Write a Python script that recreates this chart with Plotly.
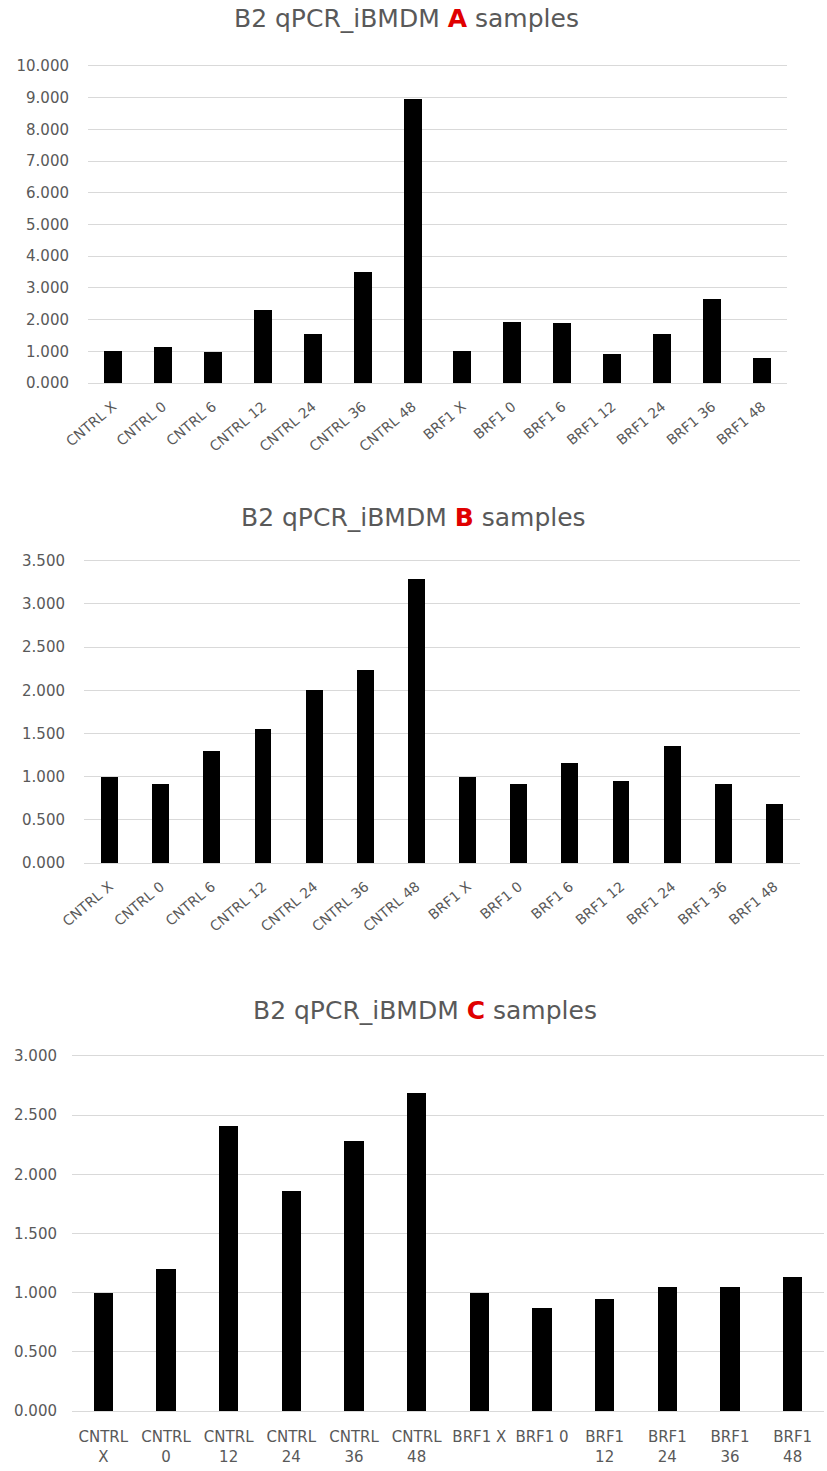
import plotly.graph_objects as go

cats_ab = ["CNTRL X", "CNTRL 0", "CNTRL 6", "CNTRL 12", "CNTRL 24", "CNTRL 36", "CNTRL 48",
           "BRF1 X", "BRF1 0", "BRF1 6", "BRF1 12", "BRF1 24", "BRF1 36", "BRF1 48"]
vals_a = [1.00, 1.12, 0.98, 2.30, 1.56, 3.51, 8.97, 1.00, 1.91, 1.88, 0.90, 1.56, 2.65, 0.79]
vals_b = [1.00, 0.92, 1.30, 1.55, 2.00, 2.24, 3.29, 1.00, 0.91, 1.16, 0.955, 1.35, 0.91, 0.68]

cats_c = ["CNTRL<br>X", "CNTRL<br>0", "CNTRL<br>12", "CNTRL<br>24", "CNTRL<br>36", "CNTRL<br>48",
          "BRF1 X", "BRF1 0", "BRF1<br>12", "BRF1<br>24", "BRF1<br>36", "BRF1<br>48"]
vals_c = [1.00, 1.20, 2.41, 1.86, 2.28, 2.69, 1.00, 0.873, 0.95, 1.05, 1.05, 1.13]

titles = ["A", "B", "C"]

W, H = 827, 1471
FONT = "DejaVu Sans"
GRAY = "#595959"
GRID = "#d9d9d9"


def xd(a, b):
    return [a / W, b / W]


def yd(top, bottom):
    return [1 - bottom / H, 1 - top / H]


fig = go.Figure()
fig.add_trace(go.Bar(x=cats_ab, y=vals_a, xaxis="x", yaxis="y", marker_color="black", width=0.36))
fig.add_trace(go.Bar(x=cats_ab, y=vals_b, xaxis="x2", yaxis="y2", marker_color="black", width=0.33))
fig.add_trace(go.Bar(x=cats_c, y=vals_c, xaxis="x3", yaxis="y3", marker_color="black", width=0.31))

common_x = dict(showgrid=False, showline=True, linecolor=GRID, linewidth=1, ticks="",
                automargin=False, fixedrange=True)
common_y = dict(showgrid=True, gridcolor=GRID, gridwidth=1, zeroline=False, showline=False,
                tickformat=".3f", tickfont=dict(family=FONT, size=15, color=GRAY),
                ticklabelstandoff=18, automargin=False, fixedrange=True)

fig.update_layout(
    template="none",
    width=W, height=H,
    margin=dict(l=0, r=0, t=0, b=0),
    paper_bgcolor="white", plot_bgcolor="white",
    showlegend=False, bargap=0,
    xaxis=dict(domain=xd(88, 787), anchor="y", tickangle=-40, ticklabelstandoff=9,
               tickfont=dict(family=FONT, size=14, color=GRAY), **common_x),
    yaxis=dict(domain=yd(64, 383), anchor="x", range=[0, 10.06], tickvals=list(range(0, 11)), **common_y),
    xaxis2=dict(domain=xd(84, 800), anchor="y2", tickangle=-40, ticklabelstandoff=9,
                tickfont=dict(family=FONT, size=14, color=GRAY), **common_x),
    yaxis2=dict(domain=yd(559, 863), anchor="x2", range=[0, 3.52],
                tickvals=[0, 0.5, 1, 1.5, 2, 2.5, 3, 3.5], **common_y),
    xaxis3=dict(domain=xd(72, 824), anchor="y3", tickangle=0, ticklabelstandoff=12,
                tickfont=dict(family=FONT, size=15, color=GRAY), **common_x),
    yaxis3=dict(domain=yd(1054, 1411), anchor="x3", range=[0, 3.016],
                tickvals=[0, 0.5, 1, 1.5, 2, 2.5, 3], **{**common_y, "ticklabelstandoff": 14}),
)

title_pos = [(406, 18), (413, 517), (425, 1010)]
for (cx, cy), letter in zip(title_pos, titles):
    fig.add_annotation(
        x=cx / W, y=1 - cy / H, xref="paper", yref="paper", showarrow=False,
        xanchor="center", yanchor="middle",
        text=f"B2 qPCR_iBMDM <b><span style='color:#e00000'>{letter}</span></b> samples",
        font=dict(family=FONT, size=25, color=GRAY),
    )

fig.write_html("out.html")
